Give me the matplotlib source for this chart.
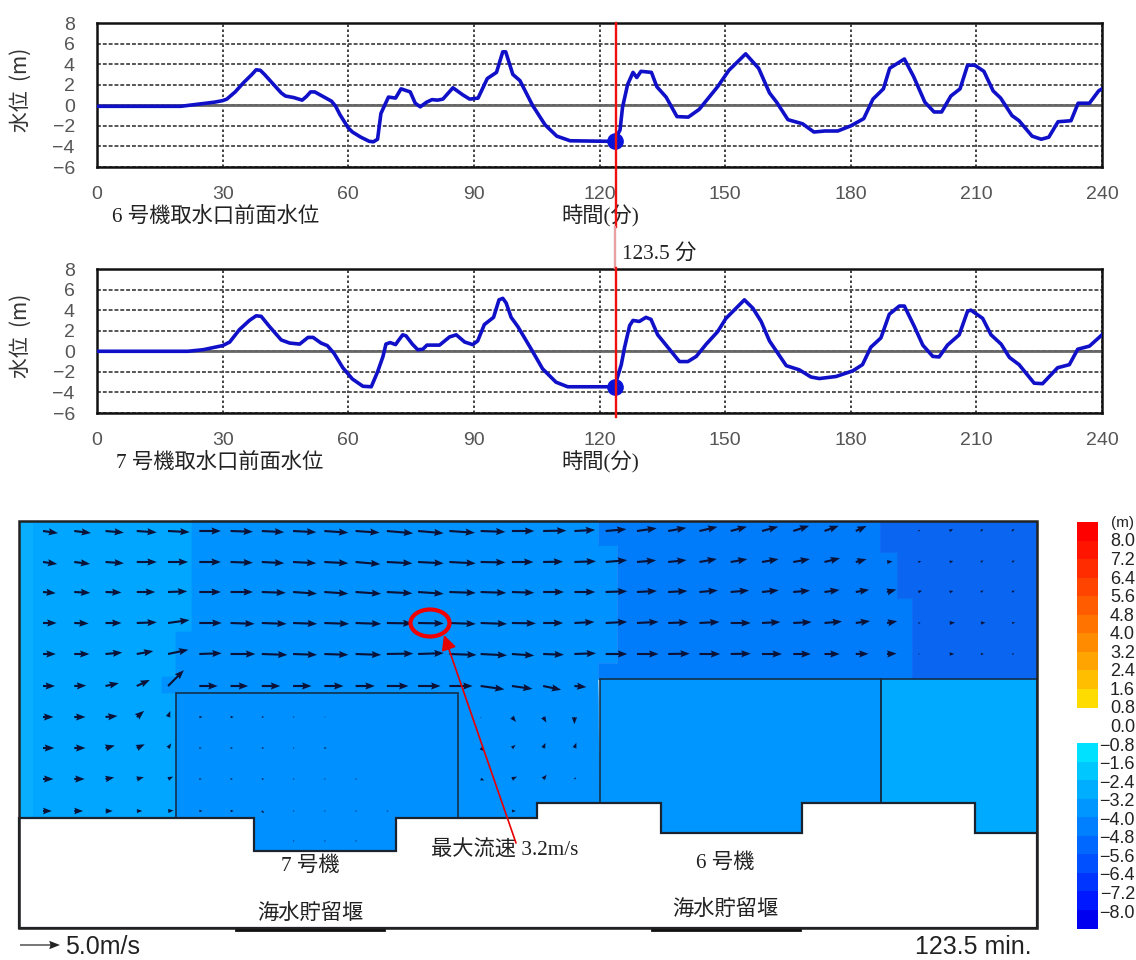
import matplotlib
matplotlib.use("Agg")
import matplotlib.pyplot as plt
from matplotlib.patches import Ellipse, Polygon, Rectangle
import numpy as np

W, H = 1136, 960

# water level at the intake
t6 = [0, 20, 22, 25, 28, 30, 31, 33, 35, 37, 38, 39, 40, 42, 44, 45, 47, 49, 50, 51, 52, 54, 56, 57, 58, 60, 61, 63, 65,
      66, 67, 67.8, 69.6, 71.3, 72.6, 74.8, 76, 77.2, 78.7, 80, 81.3, 82.6, 85, 87.4, 89, 91, 93.2, 95.4, 96.9, 97.6,
      99.3, 101, 104, 107, 109.8, 113, 121.8, 123.5, 124.9, 125.5, 126.7, 128, 128.9, 129.9, 132.4, 133.7, 135.9,
      138.5, 141.2, 143.8, 148.2, 150.9, 154.9, 158, 160.6, 162.3, 165, 168.5, 171.2, 173.8, 176.9, 180, 183.1, 185.3,
      187.8, 189.3, 192.8, 195, 197.7, 199.9, 201.7, 203.9, 206.1, 207.9, 209.6, 211.8, 214, 215.8, 218.5, 220.2,
      223.3, 225.5, 227.3, 229.5, 232.6, 234.3, 237, 239.2, 240]
level6 = [-0.1, -0.1, 0, 0.15, 0.3, 0.45, 0.6, 1.3, 2.2, 3.0, 3.45, 3.4, 3.0, 2.1, 1.2, 0.9, 0.75, 0.5, 0.85, 1.3, 1.3, 0.85,
          0.4, -0.1, -0.9, -2.2, -2.6, -3.1, -3.5, -3.55, -3.3, -0.8, 0.8, 0.7, 1.6, 1.3, 0.2, -0.15, 0.3, 0.55, 0.5, 0.6,
          1.7, 1.0, 0.6, 0.7, 2.6, 3.2, 5.2, 5.2, 3.0, 2.4, 0, -1.9, -3.0, -3.45, -3.5, -3.5, -2.4, -0.2, 2, 3.2, 2.7, 3.3,
          3.2, 1.8, 0.8, -1.1, -1.15, -0.4, 1.8, 3.4, 5, 3.6, 1.2, 0.3, -1.4, -1.8, -2.6, -2.5, -2.5, -2.0, -1.3, 0.6,
          1.6, 3.6, 4.5, 2.8, 0.3, -0.65, -0.65, 0.9, 1.6, 3.9, 3.9, 3.3, 1.4, 0.7, -1, -1.5, -3, -3.3, -3.1, -1.6, -1.5,
          0.2, 0.2, 1.4, 1.6]

t7 = [0, 21.7, 25.3, 30, 31.7, 34, 36.4, 38, 39.2, 41.2, 44, 46, 48.4, 50.4, 51.6, 53.5, 55, 56.6, 58.7, 61, 63.5, 65.5, 67,
      68.3, 69, 70, 71.3, 71.9, 73, 73.8, 75.3, 76.6, 77.8, 78.8, 81.8, 84.2, 85.8, 87.8, 89.7, 90.9, 92.5, 94.7, 96,
      96.9, 97.7, 98.9, 100.5, 104, 106.4, 109.6, 112.4, 121.6, 123.6, 125.2, 126, 127.2, 128, 129.5, 131.1, 132.3,
      133.9, 136.3, 139.1, 141.1, 143.1, 145.5, 148.2, 150.2, 154.6, 156.6, 158.6, 160.6, 164.6, 167.7, 170.5, 172.5,
      176.5, 180.5, 182.8, 184.8, 187.2, 189.2, 191.6, 192.8, 195.2, 197.2, 199.6, 201.1, 203.1, 205.9, 207.9, 208.7,
      211.5, 213.5, 215.9, 217.9, 220.2, 223.8, 225.8, 229.4, 232.2, 234.2, 237, 240]
level7 = [0, 0, 0.15, 0.55, 0.9, 2.1, 3.0, 3.45, 3.4, 2.4, 1.1, 0.8, 0.7, 1.35, 1.35, 0.8, 0.55, -0.2, -1.6, -2.7, -3.4, -3.45,
          -2, -0.5, 0.7, 0.85, 0.65, 1.0, 1.6, 1.5, 0.7, 0.15, 0.2, 0.6, 0.6, 1.4, 1.6, 0.9, 0.65, 1.0, 2.6, 3.3, 5, 5.15, 4.7,
          3.3, 2.4, 0, -1.7, -3.0, -3.45, -3.45, -3.45, -1.3, 0.4, 2.5, 3.0, 2.9, 3.3, 3.1, 1.6, 0.4, -1.0, -1.0, -0.5, 0.7,
          1.9, 3.2, 5, 4.2, 2.9, 1.0, -1.4, -1.8, -2.5, -2.65, -2.45, -1.9, -1.3, 0.4, 1.3, 3.6, 4.4, 4.4, 2.4, 0.6, -0.5,
          -0.55, 0.6, 1.6, 3.9, 4.0, 3.2, 1.6, 0.7, -0.6, -1.3, -3.1, -3.15, -1.6, -1.3, 0.2, 0.5, 1.6]

now_t = 123.6
now_level6 = -3.5
now_level7 = -3.45
x_ticks = [0, 30, 60, 90, 120, 150, 180, 210, 240]
y_ticks = [-6, -4, -2, 0, 2, 4, 6, 8]

# flow field, one row per line of arrows (m/s and degrees above east)
speed = [
    [1.9, 2.1, 2.3, 2.5, 2.7, 2.7, 2.8, 2.8, 2.9, 3.0, 3.0, 3.3, 3.2, 3.2, 3.1, 2.8, 2.9, 2.6, 2.6, 2.5, 2.3, 2.3, 2.1, 2.1, 2.1, 1.9, 1.5, 0, 0.3, 0.5, 0.4, 0.4],
    [1.8, 2.0, 2.3, 2.5, 2.5, 2.7, 2.8, 2.8, 2.9, 3.0, 3.1, 3.2, 3.2, 3.3, 3.1, 2.7, 2.5, 2.7, 2.7, 2.4, 2.3, 2.2, 2.1, 2.1, 2.1, 2.0, 1.4, 0.7, 0.4, 0.5, 0.4, 0.4],
    [1.6, 2.0, 2.0, 2.3, 2.4, 2.7, 2.8, 3.0, 3.0, 3.0, 3.2, 3.2, 3.2, 3.3, 3.2, 2.8, 2.6, 2.6, 2.7, 2.5, 2.4, 2.3, 2.3, 2.1, 2.1, 1.9, 1.7, 1.2, 0.5, 0.5, 0.4, 0.4],
    [1.7, 1.8, 2.0, 2.5, 2.7, 2.8, 3.0, 3.1, 3.0, 3.1, 3.2, 3.2, 3.2, 3.3, 3.3, 3.0, 2.5, 2.5, 2.7, 2.7, 2.5, 2.5, 2.5, 2.3, 2.3, 2.2, 1.8, 1.3, 0.3, 0.7, 0.6, 0.4],
    [1.6, 1.9, 2.1, 2.1, 2.6, 2.8, 3.1, 3.2, 3.0, 3.0, 3.2, 3.3, 3.2, 3.4, 3.3, 2.8, 2.6, 2.7, 2.7, 2.7, 2.7, 2.6, 2.5, 2.5, 2.2, 1.9, 1.6, 1.2, 0.2, 0.6, 0.4, 0.3],
    [1.5, 1.5, 1.7, 1.8, 2.8, 2.3, 2.2, 2.3, 2.3, 2.4, 2.4, 2.7, 2.8, 2.9, 3.0, 2.6, 2.3, 1.5, 0, 0, 0, 0, 0, 0, 0, 0, 0, 0, 0, 0, 0, 0],
    [1.3, 1.4, 1.5, 1.2, 0.8, 0.4, 0.4, 0.3, 0.2, 0.15, 0, 0, 0, 0, 0.15, 0.8, 0.8, 0.9, 0, 0, 0, 0, 0, 0, 0, 0, 0, 0, 0, 0, 0, 0],
    [1.4, 1.4, 1.2, 1.1, 0.7, 0.3, 0.3, 0.3, 0.2, 0.3, 0, 0, 0, 0, 0.6, 0.6, 0.7, 0.7, 0, 0, 0, 0, 0, 0, 0, 0, 0, 0, 0, 0, 0, 0],
    [1.3, 1.3, 1.1, 0.9, 0.7, 0.3, 0.3, 0.3, 0.2, 0.2, 0.2, 0, 0, 0, 0.5, 0.7, 0.7, 0.3, 0, 0, 0, 0, 0, 0, 0, 0, 0, 0, 0, 0, 0, 0],
    [1.1, 1.1, 0.9, 0.7, 0.7, 0.4, 0.4, 0.4, 0.2, 0.2, 0.2, 0.2, 0, 0, 0, 0.5, 0, 0, 0, 0, 0, 0, 0, 0, 0, 0, 0, 0, 0, 0, 0, 0],
    [0, 0, 0, 0, 0, 0, 0, 0, 0.2, 0.2, 0.2, 0, 0, 0, 0, 0, 0, 0, 0, 0, 0, 0, 0, 0, 0, 0, 0, 0, 0, 0, 0, 0],
]
angle = [
    [-8, -7, -5, -4, -3, 0, -2, -3, -3, -4, -4, -5, -5, -4, -2, 0, 1, 3, 5, 8, 10, 13, 15, 15, 18, 20, 25, 0, 30, 30, 40, 45],
    [-8, -7, -4, 0, 0, 0, -2, -3, -3, -3, -5, -3, -3, -3, -1, 0, 1, 2, 5, 5, 6, 10, 10, 10, 10, 14, 15, 5, 15, 15, 30, 30],
    [-5, -3, -2, 0, 2, 0, 0, -2, -4, -4, -4, -3, -4, -2, -2, -2, 0, 0, 2, 3, 3, 5, 5, 6, 5, 8, 10, 15, 20, 15, 30, 30],
    [0, -2, 0, 2, 8, 0, -2, -2, -2, -2, -2, -1, -1, -2, -2, -1, 0, 3, 3, 3, 2, 3, 0, 3, 3, 5, 8, 10, 0, 5, 5, 10],
    [0, 0, 5, 10, 12, 2, 0, -2, -2, -2, -2, 1, 2, -2, -3, -4, -2, 2, 0, 0, 1, 0, 1, 0, 0, 0, 1, 3, 0, 0, 0, 0],
    [0, 2, 12, 25, 45, 0, 0, 0, 0, 0, 0, 0, 0, 0, -8, -8, -12, -5, 0, 0, 0, 0, 0, 0, 0, 0, 0, 0, 0, 0, 0, 0],
    [0, 0, 5, 40, 70, 0, 0, 0, 0, 0, 0, 0, 0, 0, -60, -50, -60, -90, 0, 0, 0, 0, 0, 0, 0, 0, 0, 0, 0, 0, 0, 0],
    [0, 0, 15, 25, 55, 0, 0, 0, 0, 0, 0, 0, 0, 0, -40, 40, 65, 70, 0, 0, 0, 0, 0, 0, 0, 0, 0, 0, 0, 0, 0, 0],
    [0, 0, 10, 15, 25, 0, 0, 0, 0, 0, 0, 0, 0, 0, -20, 25, 50, 40, 0, 0, 0, 0, 0, 0, 0, 0, 0, 0, 0, 0, 0, 0],
    [0, 0, 0, 0, 5, 0, 0, -40, 0, 0, 0, 0, 0, 0, 0, 0, 0, 0, 0, 0, 0, 0, 0, 0, 0, 0, 0, 0, 0, 0, 0, 0],
    [0] * 32,
]
row_y = [531, 562, 592, 623, 654, 686, 717, 748, 779, 811, 841]
col_x = [43 + 31.26 * i for i in range(32)]

# plan view outlines in picture pixels
zone_light = [(19, 521), (192, 521), (192, 632), (176, 632), (176, 818), (19, 818)]
zone_mid = [(192, 521), (598, 521), (598, 545), (617, 545), (617, 663), (598, 663), (598, 679), (600, 803), (537, 803), (537, 818),
            (176, 818), (176, 693), (162, 693), (162, 677), (176, 677), (176, 632), (192, 632)]
zone_right = [(598, 521), (880, 521), (880, 552), (897, 552), (897, 598), (912, 598), (912, 679), (598, 679), (598, 663), (617, 663),
              (617, 545), (598, 545)]
zone_far = [(880, 521), (1037, 521), (1037, 679), (912, 679), (912, 598), (897, 598), (897, 552), (880, 552)]
basin7 = [(176, 693), (458, 693), (458, 818), (396, 818), (396, 851), (254, 851), (254, 818), (176, 818)]
basin6 = [(600, 679), (881, 679), (881, 803), (802, 803), (802, 833), (661, 833), (661, 803), (600, 803)]
basin_right = [(881, 679), (1037, 679), (1037, 833), (975, 833), (975, 803), (881, 803)]
land = [(19, 818), (254, 818), (254, 851), (396, 851), (396, 818), (537, 818), (537, 803), (661, 803), (661, 833), (802, 833),
        (802, 803), (975, 803), (975, 833), (1037, 833), (1037, 928), (19, 928)]

warm_colors = ["#ff0000", "#ff1400", "#ff2c00", "#ff4400", "#ff5c00", "#ff7400", "#ff8c00", "#ffa400", "#ffbe00", "#ffdc00"]
cold_colors = ["#00e0ff", "#00c8ff", "#00aeff", "#0096ff", "#0080ff", "#0068ff", "#0050ff", "#0034ff", "#0018ff", "#0000f0"]
scale_labels = ["8.0", "7.2", "6.4", "5.6", "4.8", "4.0", "3.2", "2.4", "1.6", "0.8", "0.0", "−0.8", "−1.6", "−2.4", "−3.2",
                "−4.0", "−4.8", "−5.6", "−6.4", "−7.2", "−8.0"]

serif_jp = ["Liberation Serif", "Noto Sans CJK JP"]
narrow = ["Liberation Sans"]


def pixel_axes(left, top, right, bottom):
    return fig.add_axes([left / W, 1 - bottom / H, (right - left) / W, (bottom - top) / H])


def level_chart(ax, t, level, now_level):
    ax.plot(t, level, color="#1010c8", lw=2.6, zorder=3)
    ax.plot([now_t], [now_level], "o", color="#0a14d8", ms=11, zorder=4)
    ax.set_xlim(0, 240)
    ax.set_ylim(-6, 8)
    ax.set_xticks(x_ticks)
    ax.set_yticks(y_ticks)
    ax.set_yticklabels([str(v).replace("-", "−") for v in y_ticks])
    ax.tick_params(length=0, labelsize=14, labelcolor="#555555")
    ax.tick_params(axis="x", pad=14)
    ax.tick_params(axis="y", pad=16)
    ax.grid(axis="y", color="#555555", ls=(0, (2, 1)), lw=1.4, zorder=1)
    ax.grid(axis="x", color="#222222", ls=(0, (1.5, 1.5)), lw=1.2, zorder=1)
    ax.axhline(0, color="#666666", lw=2, zorder=2)
    for s in ax.spines.values():
        s.set_linewidth(1.8)
        s.set_color("#111111")
    for lab in ax.get_xticklabels() + ax.get_yticklabels():
        lab.set_family("Liberation Sans")


fig = plt.figure(figsize=(W / 100, H / 100), dpi=100)
ax1 = pixel_axes(97, 23, 1102, 167)
ax2 = pixel_axes(97, 269, 1102, 413)
level_chart(ax1, t6, level6, now_level6)
level_chart(ax2, t7, level7, now_level7)

# everything below is placed in picture pixels
m = fig.add_axes([0, 0, 1, 1], facecolor="none", zorder=5)
m.set_xlim(0, W)
m.set_ylim(H, 0)
m.axis("off")


def txt(x, y, s, size=15.3, ha="left", family=serif_jp, color="#222222", **kw):
    m.text(x, y, s, fontsize=size, ha=ha, va="center", family=family, color=color, **kw)


txt(21, 90, "水位  (m)", size=15, ha="center", family=["Noto Sans CJK JP"], rotation=90, color="#333333")
txt(21, 336, "水位  (m)", size=15, ha="center", family=["Noto Sans CJK JP"], rotation=90, color="#333333")
txt(112, 217, "6 号機取水口前面水位")
txt(116, 463, "7 号機取水口前面水位")
txt(600, 216, "時間(分)", ha="center")
txt(600, 462, "時間(分)", ha="center")
txt(622, 254, "123.5 分")

cursor_x = 97 + now_t * 1005 / 240 + 1
m.plot([cursor_x, cursor_x], [23, 227], color="#f01010", lw=1.7, zorder=6)
m.plot([cursor_x - 1, cursor_x - 1], [227, 268], color="#e8a0a0", lw=1.7, zorder=6)
m.plot([cursor_x, cursor_x], [268, 417], color="#f01010", lw=1.7, zorder=6)

for poly, c in [(zone_light, "#00a6ff"), (zone_mid, "#0092ff"), (zone_right, "#007cfa"), (zone_far, "#0a66f0"),
                (basin7, "#0090ff"), (basin6, "#0096ff"), (basin_right, "#00aaff")]:
    m.add_patch(Polygon(poly, closed=True, facecolor=c, edgecolor=c, lw=0.5, zorder=1))
m.add_patch(Rectangle((19, 521), 14, 297, facecolor="#0aaeff", edgecolor="none", zorder=1.1))

for poly in [basin7, basin6, basin_right]:
    m.add_patch(Polygon(poly, closed=True, facecolor="none", edgecolor="#12304a", lw=1.2, zorder=2))
m.add_patch(Polygon(land, closed=True, facecolor="white", edgecolor="#1a2430", lw=1.6, zorder=2.5))
m.add_patch(Rectangle((19, 521), 1018, 407, facecolor="none", edgecolor="#222222", lw=1.8, zorder=3))
m.plot([236, 384], [930, 930], color="#111111", lw=2, zorder=3)
m.plot([652, 800], [930, 930], color="#111111", lw=2, zorder=3)

sp = np.array(speed)
an = np.radians(np.array(angle))
cx, cy = np.meshgrid(col_x, row_y)
keep = sp > 0
# 5 m/s draws as a 40 px arrow
m.quiver(cx[keep], cy[keep], (sp * np.cos(an))[keep], -(sp * np.sin(an))[keep], angles="xy", scale_units="xy", scale=0.125,
         units="xy", width=2.1, headwidth=3.4, headlength=4.5, headaxislength=4, minlength=0.5, pivot="tail", color="#0a1238", zorder=4)
m.quiver([20], [945], [5], [0], angles="xy", scale_units="xy", scale=0.125, units="xy", width=1.2, headwidth=7, headlength=9,
         headaxislength=8, color="#222222", zorder=4)

m.add_patch(Ellipse((430, 623), 39, 27, facecolor="none", edgecolor="#f00000", lw=3, zorder=7))
m.annotate("", xy=(444, 635), xytext=(516, 843), zorder=7,
           arrowprops=dict(arrowstyle="-|>,head_length=0.9,head_width=0.45", color="#e80000", lw=1.2, shrinkA=0, shrinkB=0))

txt(281, 866, "7 号機")
txt(257, 914, "海水貯留堰")
txt(431, 851, "最大流速 3.2m/s")
txt(696, 863, "6 号機")
txt(672, 910, "海水貯留堰")
txt(65, 947, "5.0m/s", size=18, family=narrow)
txt(1032, 947, "123.5 min.", size=18, ha="right", family=narrow)

# colour scale
step = 18.55
for i, c in enumerate(warm_colors):
    m.add_patch(Rectangle((1077, 522 + i * step), 21, step + 0.5, facecolor=c, edgecolor="none"))
for i, c in enumerate(cold_colors):
    m.add_patch(Rectangle((1077, 743 + i * step), 21, step + 0.5, facecolor=c, edgecolor="none"))
txt(1134, 523, "(m)", size=11, ha="right", family=narrow)
for i, s in enumerate(scale_labels):
    txt(1135, 542 + i * step, s, size=13, ha="right", family=narrow)

fig.savefig("out.png", dpi=100, facecolor="white")
